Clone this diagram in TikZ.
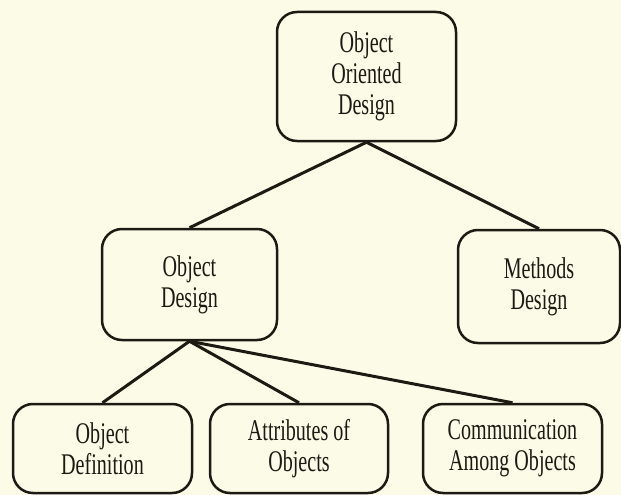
\documentclass[tikz,border=0pt]{standalone}
\usepackage{fontspec}
\setmainfont{Liberation Serif}[FakeStretch=0.67]
\usepackage{tikz}
\usetikzlibrary{positioning}
\definecolor{paper}{RGB}{252,251,232}
\definecolor{ink}{RGB}{28,26,18}
\tikzset{
  treenode/.style = {align=center, inner sep=0pt, text centered,
    font=\fontsize{30}{31}\selectfont, text=ink},
  dbox/.style = {treenode, rectangle, rounded corners=20pt, draw=ink,
    line width=2.5pt},
  link/.style = {draw=ink, line width=3pt}
}
\begin{document}
\begin{tikzpicture}[x=1pt, y=-1pt]
\fill [paper] (0,0) rectangle (621,495);
\useasboundingbox (0,0) rectangle (621,495);
\node [dbox, minimum width=179pt, minimum height=129pt] (ood) at (366.5,76.5) {Object\\Oriented\\Design};
\node [dbox, minimum width=175pt, minimum height=111pt] (od) at (189.5,284.5) {Object\\Design};
\node [dbox, minimum width=162pt, minimum height=113pt] (md) at (539,286.5) {Methods\\Design};
\node [dbox, minimum width=179pt, minimum height=89pt] (def) at (102.5,448.5) {Object\\Definition};
\node [dbox, minimum width=178pt, minimum height=89pt] (attr) at (299,448.5) {Attributes of\\Objects};
\node [dbox, minimum width=179pt, minimum height=89pt] (comm) at (512.5,448.5) {Communication\\Among Objects};
% links
\draw [link] (ood.south) -- (od.north);
\draw [link] (ood.south) -- (md.north);
\draw [link] (od.south) -- (def.north);
\draw [link] (od.south) -- (attr.north);
\draw [link] (od.south) -- (comm.north);
\end{tikzpicture}
\end{document}
